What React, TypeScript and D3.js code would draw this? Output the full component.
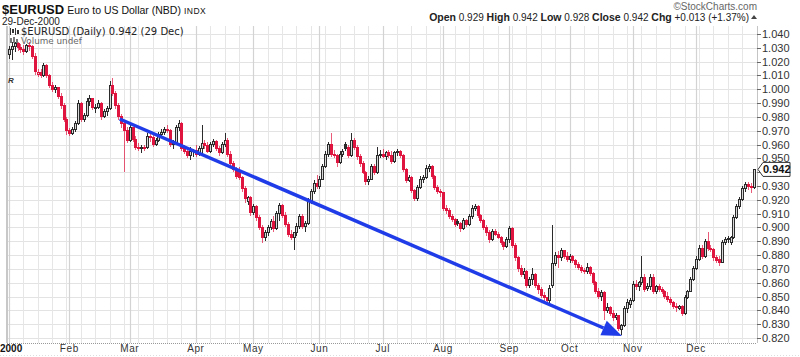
import React from 'react';
import * as d3 from 'd3';

// Daily OHLC rows [open, high, low, close], one array per month
const jan = [
  [1.025,1.031,1.022,1.029],[1.029,1.034,1.021,1.031],[1.031,1.034,1.027,1.033],[1.033,1.034,1.028,1.030],
  [1.030,1.033,1.026,1.029],[1.029,1.032,1.025,1.027],[1.027,1.033,1.026,1.032],[1.032,1.034,1.028,1.031],
  [1.031,1.032,1.022,1.024],[1.024,1.026,1.010,1.013],[1.011,1.015,1.009,1.012],[1.012,1.015,1.008,1.010],
  [1.010,1.019,1.009,1.017],[1.017,1.018,1.008,1.010],[1.010,1.011,1.001,1.003],[1.003,1.005,0.998,1.000],
  [1.000,1.003,0.997,1.001],[1.001,1.002,0.993,0.995],[0.995,0.997,0.986,0.988],[0.988,0.990,0.976,0.978],
  [0.978,0.980,0.967,0.970],
];
const feb = [
  [0.970,0.972,0.966,0.968],[0.968,0.973,0.967,0.971],[0.971,0.977,0.969,0.975],[0.975,0.992,0.974,0.990],
  [0.990,0.991,0.976,0.978],[0.978,0.983,0.976,0.981],[0.981,0.994,0.980,0.991],[0.991,0.996,0.988,0.993],
  [0.993,0.994,0.985,0.987],[0.986,0.989,0.983,0.987],[0.987,0.992,0.986,0.990],[0.990,0.991,0.978,0.980],
  [0.980,0.986,0.979,0.984],[0.984,0.988,0.981,0.986],[0.986,1.006,0.985,1.003],[1.003,1.008,0.995,0.997],
  [0.997,0.999,0.986,0.988],[0.988,0.990,0.978,0.980],[0.980,0.982,0.972,0.975],[0.975,0.976,0.940,0.970],
  [0.970,0.973,0.961,0.963],
];
const mar = [
  [0.963,0.974,0.962,0.972],[0.972,0.973,0.962,0.964],[0.964,0.966,0.956,0.958],[0.958,0.961,0.955,0.957],
  [0.957,0.960,0.954,0.958],[0.958,0.960,0.955,0.957],[0.958,0.968,0.957,0.966],[0.966,0.968,0.962,0.965],
  [0.965,0.967,0.958,0.960],[0.960,0.965,0.959,0.963],[0.963,0.969,0.962,0.967],[0.967,0.971,0.965,0.969],
  [0.969,0.973,0.967,0.971],[0.971,0.974,0.968,0.970],[0.970,0.971,0.958,0.960],[0.960,0.963,0.957,0.961],
  [0.961,0.974,0.960,0.972],[0.972,0.978,0.970,0.975],[0.975,0.976,0.955,0.957],[0.957,0.960,0.953,0.955],
  [0.955,0.958,0.950,0.952],[0.952,0.958,0.949,0.955],[0.955,0.957,0.951,0.956],
];
const apr = [
  [0.956,0.960,0.951,0.953],[0.953,0.959,0.952,0.957],[0.957,0.974,0.953,0.961],[0.961,0.963,0.957,0.959],
  [0.959,0.962,0.954,0.955],[0.955,0.962,0.954,0.960],[0.960,0.964,0.958,0.962],[0.962,0.963,0.955,0.957],
  [0.957,0.959,0.952,0.954],[0.954,0.962,0.953,0.960],[0.960,0.968,0.958,0.963],[0.963,0.965,0.951,0.953],
  [0.953,0.955,0.944,0.946],[0.946,0.948,0.940,0.942],[0.942,0.944,0.935,0.937],[0.940,0.944,0.934,0.936],
  [0.936,0.937,0.926,0.928],[0.928,0.930,0.918,0.921],[0.919,0.923,0.916,0.922],[0.922,0.923,0.908,0.911],
];
const may = [
  [0.911,0.917,0.909,0.915],[0.915,0.916,0.905,0.907],[0.907,0.909,0.898,0.900],[0.900,0.902,0.889,0.893],
  [0.893,0.898,0.890,0.896],[0.896,0.902,0.894,0.900],[0.900,0.906,0.898,0.904],[0.904,0.908,0.897,0.899],
  [0.899,0.912,0.898,0.910],[0.910,0.918,0.905,0.916],[0.916,0.917,0.907,0.909],[0.909,0.911,0.900,0.902],
  [0.902,0.904,0.893,0.895],[0.895,0.898,0.891,0.893],[0.893,0.897,0.884,0.896],[0.896,0.903,0.894,0.901],
  [0.901,0.910,0.899,0.908],[0.908,0.910,0.899,0.901],[0.901,0.905,0.897,0.903],[0.903,0.921,0.902,0.919],
  [0.919,0.928,0.917,0.926],[0.926,0.934,0.924,0.932],[0.932,0.938,0.928,0.930],
];
const jun = [
  [0.930,0.937,0.928,0.935],[0.935,0.946,0.934,0.944],[0.944,0.955,0.943,0.953],[0.953,0.962,0.951,0.960],
  [0.960,0.968,0.951,0.953],[0.953,0.956,0.950,0.952],[0.952,0.953,0.944,0.947],[0.947,0.955,0.946,0.953],
  [0.953,0.957,0.951,0.955],[0.960,0.962,0.955,0.957],[0.958,0.960,0.950,0.952],[0.952,0.968,0.951,0.963],
  [0.963,0.965,0.956,0.958],[0.958,0.960,0.949,0.951],[0.951,0.953,0.944,0.946],[0.946,0.948,0.939,0.940],
  [0.940,0.941,0.931,0.933],[0.933,0.937,0.931,0.935],[0.935,0.946,0.934,0.944],[0.944,0.946,0.938,0.940],
  [0.940,0.958,0.939,0.952],[0.952,0.956,0.950,0.953],
];
const jul = [
  [0.953,0.957,0.950,0.951],[0.951,0.955,0.949,0.954],[0.954,0.956,0.950,0.952],[0.952,0.955,0.946,0.948],
  [0.948,0.955,0.947,0.954],[0.954,0.957,0.952,0.955],[0.955,0.956,0.950,0.952],[0.952,0.953,0.940,0.942],
  [0.942,0.943,0.932,0.934],[0.934,0.938,0.933,0.936],[0.936,0.937,0.925,0.927],[0.927,0.928,0.919,0.921],
  [0.921,0.931,0.919,0.929],[0.929,0.937,0.928,0.935],[0.935,0.938,0.932,0.936],[0.936,0.945,0.935,0.943],
  [0.943,0.946,0.940,0.944],[0.944,0.945,0.935,0.937],[0.937,0.938,0.927,0.929],[0.929,0.931,0.924,0.926],
  [0.926,0.928,0.922,0.925],
];
const aug = [
  [0.925,0.926,0.912,0.914],[0.914,0.916,0.910,0.912],[0.912,0.914,0.906,0.908],[0.908,0.910,0.904,0.906],
  [0.906,0.907,0.900,0.902],[0.904,0.906,0.901,0.903],[0.903,0.904,0.897,0.899],[0.899,0.907,0.898,0.905],
  [0.905,0.906,0.900,0.902],[0.902,0.910,0.901,0.908],[0.908,0.916,0.906,0.914],[0.914,0.917,0.912,0.915],
  [0.915,0.916,0.907,0.909],[0.909,0.910,0.903,0.905],[0.905,0.906,0.898,0.900],[0.900,0.902,0.894,0.896],
  [0.896,0.898,0.889,0.891],[0.891,0.899,0.890,0.897],[0.897,0.899,0.894,0.895],[0.895,0.897,0.892,0.893],
  [0.893,0.894,0.887,0.889],[0.889,0.890,0.884,0.886],[0.886,0.893,0.885,0.891],
];
const sep = [
  [0.891,0.901,0.889,0.899],[0.899,0.900,0.885,0.887],[0.887,0.889,0.876,0.878],[0.878,0.879,0.868,0.870],
  [0.870,0.873,0.864,0.866],[0.866,0.871,0.863,0.868],[0.868,0.869,0.856,0.858],[0.858,0.864,0.856,0.862],
  [0.862,0.871,0.858,0.866],[0.866,0.867,0.856,0.858],[0.858,0.860,0.852,0.855],[0.855,0.857,0.849,0.851],
  [0.851,0.853,0.847,0.849],[0.849,0.850,0.845,0.847],[0.847,0.858,0.845,0.856],[0.858,0.902,0.856,0.874],
  [0.874,0.882,0.872,0.880],[0.880,0.883,0.871,0.878],[0.878,0.885,0.876,0.883],[0.883,0.884,0.877,0.879],
  [0.879,0.882,0.875,0.877],
];
const oct = [
  [0.877,0.881,0.874,0.879],[0.879,0.880,0.874,0.876],[0.876,0.877,0.871,0.873],[0.873,0.875,0.869,0.871],
  [0.871,0.873,0.867,0.869],[0.869,0.871,0.866,0.868],[0.868,0.874,0.866,0.871],[0.871,0.872,0.865,0.867],
  [0.867,0.868,0.858,0.860],[0.860,0.861,0.852,0.854],[0.854,0.856,0.848,0.850],[0.850,0.855,0.847,0.853],
  [0.853,0.854,0.833,0.840],[0.840,0.845,0.838,0.842],[0.842,0.843,0.836,0.838],[0.838,0.840,0.832,0.835],
  [0.835,0.838,0.833,0.836],[0.836,0.837,0.825,0.827],[0.826,0.830,0.822,0.829],[0.829,0.843,0.828,0.841],
  [0.841,0.848,0.838,0.846],[0.844,0.849,0.842,0.847],
];
const nov = [
  [0.847,0.861,0.846,0.859],[0.859,0.862,0.855,0.857],[0.857,0.861,0.854,0.860],[0.860,0.879,0.858,0.864],
  [0.864,0.866,0.853,0.855],[0.856,0.860,0.854,0.857],[0.857,0.866,0.855,0.864],[0.864,0.866,0.852,0.854],
  [0.854,0.858,0.852,0.857],[0.857,0.859,0.853,0.855],[0.855,0.857,0.852,0.854],[0.854,0.855,0.848,0.850],
  [0.850,0.853,0.846,0.848],[0.848,0.850,0.844,0.846],[0.846,0.847,0.841,0.843],[0.843,0.845,0.839,0.842],
  [0.841,0.844,0.840,0.843],[0.843,0.844,0.836,0.838],[0.838,0.851,0.837,0.849],[0.849,0.855,0.848,0.854],
  [0.854,0.864,0.853,0.862],[0.862,0.872,0.861,0.870],
];
const dec = [
  [0.870,0.879,0.869,0.877],[0.877,0.887,0.876,0.885],[0.885,0.887,0.877,0.879],[0.879,0.892,0.878,0.890],
  [0.890,0.897,0.883,0.885],[0.885,0.887,0.882,0.884],[0.884,0.885,0.876,0.878],[0.878,0.880,0.874,0.876],
  [0.877,0.879,0.872,0.875],[0.875,0.891,0.874,0.889],[0.889,0.893,0.887,0.891],[0.891,0.894,0.889,0.892],
  [0.889,0.894,0.887,0.893],[0.893,0.909,0.892,0.907],[0.907,0.917,0.906,0.915],[0.915,0.922,0.913,0.920],
  [0.920,0.930,0.919,0.928],[0.928,0.933,0.926,0.931],[0.931,0.933,0.927,0.930],[0.930,0.932,0.925,0.929],
  [0.929,0.942,0.928,0.942],
];

const monthLabels = ['2000','Feb','Mar','Apr','May','Jun','Jul','Aug','Sep','Oct','Nov','Dec'];
const priceTicks = [0.82,0.83,0.84,0.85,0.86,0.87,0.88,0.89,0.90,0.91,0.92,0.93,0.94,0.95,0.96,0.97,0.98,0.99,1.00,1.01,1.02,1.03,1.04];
const lastValue = 0.942;
// trend arrow endpoints in (trading-day index, price)
const arrowStart = [38.5, 0.9785];
const arrowEnd = [213.2, 0.8215];

const RED = '#e0153f';
const BLK = '#2b2b2b';
const BLUE = '#1f3ce8';

// trading days (weekdays) of 2000
const days: Date[] = [];
for (let d = new Date(2000, 0, 3); d <= new Date(2000, 11, 29); d = new Date(d.getFullYear(), d.getMonth(), d.getDate() + 1)) {
  const wd = d.getDay();
  if (wd !== 0 && wd !== 6) days.push(d);
}

const rows = [...jan, ...feb, ...mar, ...apr, ...may, ...jun, ...jul, ...aug, ...sep, ...oct, ...nov, ...dec];

export default function App() {
  const x = d3.scaleLinear().domain([0, rows.length - 1]).range([9, 753.6]);
  const y = d3.scaleLinear().domain([0.82, 1.04]).range([338, 34]);
  const L = 7, R = 757, T = 26, B = 343;

  const monthStarts: number[] = [];
  const weekStarts: number[] = [];
  days.forEach((d, i) => {
    if (i === 0 || d.getMonth() !== days[i - 1].getMonth()) monthStarts.push(i);
    else if (d.getDay() === 1) weekStarts.push(i);
  });

  const ax = x(arrowStart[0]), ay = y(arrowStart[1]);
  const bx = x(arrowEnd[0]), by = y(arrowEnd[1]);
  const ang = Math.atan2(by - ay, bx - ax);
  const headLen = 20, headW = 8;
  const hx = bx - headLen * Math.cos(ang), hy = by - headLen * Math.sin(ang);
  const px = -Math.sin(ang) * headW, py = Math.cos(ang) * headW;

  const ly = y(lastValue);

  return (
    <svg width={800} height={357} style={{ position: 'absolute', left: 0, top: 0, background: '#fff' }}
      fontFamily="'Liberation Sans', Arial, sans-serif">
      <rect x={0} y={0} width={800} height={357} fill="#fff" />
      {/* header */}
      <text x={2} y={14} fill="#111">
        <tspan fontSize={13} fontWeight="bold">$EURUSD</tspan>
        <tspan dx={3} fontSize={10.5}>Euro to US Dollar (NBD)</tspan>
        <tspan dx={3} fontSize={8.5} letterSpacing={0.5}>INDX</tspan>
      </text>
      <text x={2} y={25} fontSize={10} fill="#222">29-Dec-2000</text>
      <text x={757} y={10} fontSize={10} fill="#666" textAnchor="end">©StockCharts.com</text>
      <text x={749} y={21} fontSize={10} fill="#222" textAnchor="end">
        <tspan fontWeight="bold" fontSize={10.5}>Open</tspan><tspan> 0.929  </tspan>
        <tspan fontWeight="bold" fontSize={10.5}>High</tspan><tspan> 0.942  </tspan>
        <tspan fontWeight="bold" fontSize={10.5}>Low</tspan><tspan> 0.928  </tspan>
        <tspan fontWeight="bold" fontSize={10.5}>Close</tspan><tspan> 0.942  </tspan>
        <tspan fontWeight="bold" fontSize={10.5}>Chg</tspan><tspan> +0.013 (+1.37%)</tspan>
      </text>
      <path d="M751,19 L757,19 L754,15 Z" fill="#444" />

      {/* grid */}
      {priceTicks.map(t => (
        <line key={'h' + t} x1={L} x2={R} y1={Math.round(y(t)) + 0.5} y2={Math.round(y(t)) + 0.5} stroke="#e3e3e3" />
      ))}
      {weekStarts.map(i => (
        <line key={'w' + i} x1={Math.round(x(i)) + 0.5} x2={Math.round(x(i)) + 0.5} y1={T} y2={B} stroke="#e6e6e6" />
      ))}
      {monthStarts.map(i => (
        <line key={'m' + i} x1={Math.round(x(i)) + 0.5} x2={Math.round(x(i)) + 0.5} y1={T} y2={B} stroke="#d3d3d3" strokeWidth={1.2} />
      ))}
      <line x1={L} x2={L} y1={T} y2={B} stroke="#c8c8c8" strokeWidth={2} />
      <line x1={R + 0.5} x2={R + 0.5} y1={T} y2={B} stroke="#c4c4c4" />
      <line x1={L} x2={R} y1={B + 0.5} y2={B + 0.5} stroke="#999" strokeDasharray="1,1" />
      <line x1={0} x2={800} y1={355.5} y2={355.5} stroke="#ddd" strokeDasharray="1,2" />

      {/* legend */}
      <g>
        <line x1={10.5} x2={10.5} y1={28} y2={35} stroke="#333" />
        <rect x={12} y={29} width={2} height={4} fill="#333" />
        <line x1={15.5} x2={15.5} y1={28} y2={35} stroke="#333" />
        <rect x={17} y={30} width={2} height={4} fill="#333" />
        <text x={21} y={35} fontSize={10} fontFamily="'DejaVu Sans', Verdana, sans-serif" fill="#222">$EURUSD (Daily) 0.942 (29 Dec)</text>
        <rect x={10} y={38} width={2} height={5} fill="#777" />
        <rect x={13} y={37} width={2} height={6} fill="#777" />
        <rect x={16} y={39} width={2} height={4} fill="#777" />
        <text x={21} y={44} fontSize={8.8} fontFamily="'DejaVu Sans', Verdana, sans-serif" fill="#666">Volume undef</text>
        <text x={8} y={83} fontSize={8} fontStyle="italic" fontWeight="bold" fill="#333">R</text>
      </g>

      {/* candles */}
      <g shapeRendering="crispEdges">
        {rows.map((r, i) => {
          const [o, h, l, c] = r;
          const prev = i > 0 ? rows[i - 1][3] : o;
          const col = c >= prev ? BLK : RED;
          const hollow = c > o;
          const cx = Math.round(x(i));
          const top = y(Math.max(o, c));
          const bh = Math.max(1, Math.abs(y(o) - y(c)));
          return (
            <g key={i}>
              <line x1={cx + 0.5} x2={cx + 0.5} y1={y(h)} y2={y(l)} stroke={col} strokeOpacity={col === RED ? 0.7 : 1} />
              <rect x={cx - 0.5} y={top} width={2} height={bh} fill={hollow ? '#d8d8d8' : col} stroke={col} strokeWidth={1} />
            </g>
          );
        })}
      </g>

      {/* trend arrow */}
      <line x1={ax} y1={ay} x2={hx} y2={hy} stroke={BLUE} strokeWidth={3.5} />
      <path d={`M${bx},${by} L${hx + px},${hy + py} L${hx - px},${hy - py} Z`} fill={BLUE} />

      {/* right axis */}
      {priceTicks.map(t => (
        <g key={'t' + t}>
          <line x1={R} x2={R + 4} y1={Math.round(y(t)) + 0.5} y2={Math.round(y(t)) + 0.5} stroke="#666" />
          {Math.abs(t - 0.94) > 0.0001 && (
            <text x={762} y={y(t) + 4} fontSize={11} fill="#333">{d3.format('.3f')(t)}</text>
          )}
        </g>
      ))}
      <path d={`M${R + 1},${ly} L${R + 6},${ly - 7} L${R + 33},${ly - 7} L${R + 33},${ly + 7} L${R + 6},${ly + 7} Z`} fill="#fff" stroke="#333" />
      <text x={R + 6} y={ly + 4} fontSize={11} fontWeight="bold" fill="#111">{d3.format('.3f')(lastValue)}</text>

      {/* bottom axis */}
      {monthStarts.map((i, k) => (
        k === 0 ? (
          <text key={'ml' + i} x={0} y={352} fontSize={10} fontWeight="bold" fill="#111">{monthLabels[k]}</text>
        ) : (
          <text key={'ml' + i} x={x(i)} y={352} fontSize={10} fill="#333" letterSpacing={0.6} textAnchor="middle">{monthLabels[k]}</text>
        )
      ))}
    </svg>
  );
}
